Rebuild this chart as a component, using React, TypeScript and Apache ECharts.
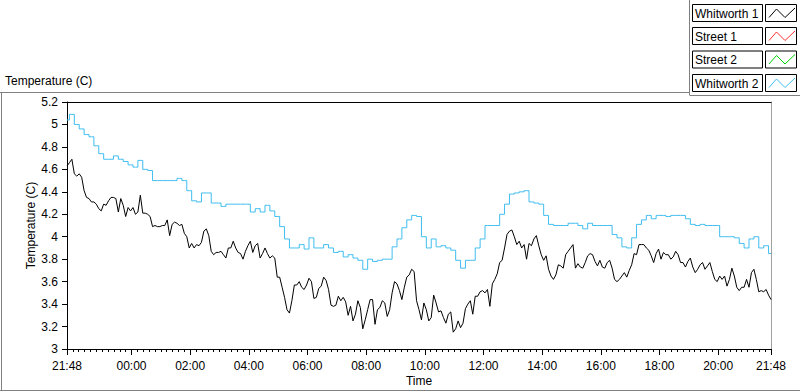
import React, { useEffect, useRef } from "react";
import * as echarts from "echarts";

// x values are minutes relative to 00:00 (21:48 of the previous day = -132)
const START_MIN = -132;
const END_MIN = 1308;
const STEP_W1 = 5; // sampling step of Whitworth 1, minutes
const STEP_W2 = 10; // sampling step of Whitworth 2, minutes

const seriesNames = ["Whitworth 1", "Street 1", "Street 2", "Whitworth 2"];
const seriesColors = ["#000000", "#ff3030", "#00d400", "#3fbdf0"];

const whitworth1 = [
  4.63, 4.66, 4.69, 4.56, 4.54, 4.56, 4.53, 4.41, 4.35, 4.34,
  4.31, 4.31, 4.29, 4.25, 4.23, 4.29, 4.28, 4.32, 4.35, 4.35,
  4.34, 4.22, 4.34, 4.28, 4.18, 4.26, 4.23, 4.26, 4.20, 4.22,
  4.37, 4.21, 4.21, 4.20, 4.18, 4.09, 4.10, 4.09, 4.09, 4.10,
  4.10, 4.15, 4.01, 4.11, 4.13, 4.12, 4.10, 4.11, 4.03, 4.00,
  3.90, 3.94, 3.90, 3.93, 3.92, 3.95, 4.05, 4.07, 4.01, 3.87,
  3.84, 3.86, 3.86, 3.87, 3.84, 3.81, 3.90, 3.90, 3.96, 3.90,
  3.86, 3.85, 3.80, 3.87, 3.92, 3.96, 3.86, 3.92, 3.94, 3.81,
  3.85, 3.90, 3.85, 3.81, 3.83, 3.81, 3.64, 3.64, 3.55, 3.46,
  3.35, 3.32, 3.43, 3.57, 3.57, 3.60, 3.55, 3.53, 3.57, 3.63,
  3.60, 3.45, 3.46, 3.54, 3.56, 3.64, 3.61, 3.53, 3.39, 3.38,
  3.39, 3.47, 3.43, 3.46, 3.42, 3.30, 3.38, 3.25, 3.31, 3.43,
  3.37, 3.18, 3.26, 3.35, 3.44, 3.44, 3.22, 3.35, 3.37, 3.43,
  3.41, 3.29, 3.35, 3.50, 3.60, 3.58, 3.52, 3.44, 3.55, 3.64,
  3.66, 3.71, 3.69, 3.43, 3.35, 3.26, 3.41, 3.35, 3.25, 3.28,
  3.48, 3.41, 3.33, 3.34, 3.28, 3.23, 3.31, 3.33, 3.15, 3.18,
  3.25, 3.19, 3.23, 3.36, 3.40, 3.43, 3.31, 3.47, 3.47, 3.51,
  3.52, 3.50, 3.53, 3.38, 3.58, 3.62, 3.67, 3.77, 3.79, 3.90,
  4.02, 4.05, 4.06, 4.00, 3.93, 3.96, 3.90, 3.93, 3.80, 3.94,
  3.92, 3.98, 4.01, 3.92, 3.84, 3.79, 3.83, 3.71,
  3.65, 3.62, 3.66, 3.75, 3.74, 3.72, 3.84, 3.87, 3.90, 3.93,
  3.72, 3.76, 3.73, 3.72, 3.77, 3.83, 3.85, 3.84, 3.78, 3.74,
  3.79, 3.73, 3.72, 3.77, 3.79, 3.72, 3.62, 3.60, 3.62, 3.65,
  3.68, 3.64, 3.70, 3.75, 3.85, 3.84, 3.93, 3.93, 3.93, 3.90,
  3.88, 3.83, 3.77, 3.85, 3.89, 3.80, 3.86, 3.84, 3.84, 3.80,
  3.82, 3.87, 3.84, 3.77, 3.77, 3.73, 3.78, 3.81, 3.73, 3.68,
  3.71, 3.75, 3.77, 3.71, 3.74, 3.77, 3.69, 3.62, 3.60, 3.65,
  3.62, 3.65, 3.56, 3.62, 3.72, 3.65, 3.55, 3.52, 3.55, 3.55,
  3.62, 3.55, 3.68, 3.71, 3.62, 3.51, 3.52, 3.51, 3.53, 3.48,
  3.44,
];

const whitworth2 = [
  5.04, 5.09, 5.00, 4.96, 4.91, 4.89, 4.81, 4.74, 4.69, 4.69,
  4.72, 4.69, 4.67, 4.64, 4.62, 4.68, 4.60, 4.59, 4.50, 4.50,
  4.50, 4.50, 4.50, 4.52, 4.50, 4.41, 4.32, 4.31, 4.39, 4.39,
  4.30, 4.30, 4.27, 4.29, 4.29, 4.29, 4.29, 4.29, 4.22, 4.25,
  4.22, 4.28, 4.23, 4.18, 4.09, 3.98, 3.90, 3.90, 3.93, 3.89,
  3.99, 3.90, 3.90, 3.93, 3.90, 3.86, 3.87, 3.82, 3.84, 3.81,
  3.79, 3.71, 3.80, 3.78, 3.79, 3.80, 3.80, 3.91, 3.98, 4.08,
  4.15, 4.19, 4.18, 4.00, 3.90, 3.98, 3.91, 3.92, 3.90, 3.88,
  3.79, 3.72, 3.79, 3.79, 3.90, 3.98, 4.10, 4.10, 4.10, 4.20,
  4.29, 4.38, 4.39, 4.40, 4.41, 4.31, 4.30, 4.29, 4.19,
  4.11, 4.10, 4.10, 4.10, 4.12, 4.12, 4.10, 4.07, 4.12, 4.10,
  4.10, 4.10, 4.10, 4.02, 3.99, 3.91, 3.90, 3.99, 4.11, 4.15,
  4.19, 4.16, 4.19, 4.19, 4.18, 4.19, 4.19, 4.19, 4.16, 4.11,
  4.10, 4.11, 4.10, 4.10, 4.10, 4.00, 4.00, 4.00, 3.99, 3.94,
  3.90, 3.98, 4.00, 3.90, 3.92, 3.85,
];

const street1: number[] = [];
const street2: number[] = [];

const xLabelValues = [-132, 0, 120, 240, 360, 480, 600, 720, 840, 960, 1080, 1200, 1308];
const MINOR_TICK_STEP = 12;

const FONT = "'Liberation Sans', Arial, sans-serif";

function fmtTime(m: number): string {
  const mm = ((Math.round(m) % 1440) + 1440) % 1440;
  const h = Math.floor(mm / 60);
  const mi = mm % 60;
  return String(h).padStart(2, "0") + ":" + String(mi).padStart(2, "0");
}

function toPairs(values: number[], step: number): [number, number][] {
  return values.map((v, i) => [START_MIN + i * step, v]);
}

export default function App() {
  const ref = useRef<HTMLDivElement>(null);

  useEffect(() => {
    if (!ref.current) return;
    const chart = echarts.init(ref.current, undefined, { renderer: "svg" });

    const seriesData = [whitworth1, street1, street2, whitworth2];
    const seriesSteps = [STEP_W1, STEP_W2, STEP_W2, STEP_W2];
    const seriesStepMode: (false | string)[] = [false, false, false, "middle"];

    const minorTicks: number[] = [];
    for (let t = START_MIN; t <= END_MIN; t += MINOR_TICK_STEP) minorTicks.push(t);

    const legendGraphics: any[] = [];
    const rowTop = [4, 27, 50.5, 74];
    seriesNames.forEach((name, k) => {
      const top = rowTop[k];
      legendGraphics.push({
        type: "rect",
        shape: { x: 692.5, y: top + 0.5, width: 70, height: 17 },
        style: { fill: "#fff", stroke: "#000", lineWidth: 1 },
      });
      legendGraphics.push({
        type: "text",
        style: {
          x: 695,
          y: top + 9.5,
          text: name,
          fill: "#000",
          font: `12px ${FONT}`,
          verticalAlign: "middle",
          textAlign: "left",
        },
      });
      legendGraphics.push({
        type: "rect",
        shape: { x: 765.5, y: top + 0.5, width: 31, height: 17 },
        style: { fill: "#fff", stroke: "#000", lineWidth: 1 },
      });
      legendGraphics.push({
        type: "polyline",
        shape: {
          points: [
            [769, top + 13.5],
            [776.5, top + 5],
            [785, top + 13.5],
            [795, top + 4],
          ],
        },
        style: { stroke: seriesColors[k], lineWidth: 1, fill: "none" },
      });
    });

    chart.setOption({
      animation: false,
      backgroundColor: "#ffffff",
      textStyle: { fontFamily: FONT },
      grid: { left: 67, top: 102, width: 704, height: 251, containLabel: false },
      xAxis: [
        {
          type: "value",
          min: START_MIN,
          max: END_MIN,
          position: "bottom",
          name: "Time",
          nameLocation: "middle",
          nameGap: 26,
          nameMoveOverlap: false,
          nameTextStyle: { color: "#000", fontSize: 12, fontFamily: FONT },
          axisLine: { show: true, onZero: false, lineStyle: { color: "#000", width: 1 } },
          axisTick: {
            show: true,
            length: 3,
            customValues: minorTicks,
            lineStyle: { color: "#000" },
          },
          axisLabel: {
            show: true,
            customValues: xLabelValues,
            formatter: (v: number) => fmtTime(v),
            color: "#000",
            fontSize: 12,
            fontFamily: FONT,
            margin: 11,
          },
          splitLine: { show: false },
        },
        {
          type: "value",
          min: START_MIN,
          max: END_MIN,
          position: "bottom",
          axisLine: { show: false, onZero: false },
          axisTick: {
            show: true,
            length: 6,
            customValues: xLabelValues,
            lineStyle: { color: "#000" },
          },
          axisLabel: { show: false },
          splitLine: { show: false },
        },
        {
          type: "value",
          min: START_MIN,
          max: END_MIN,
          position: "top",
          axisLine: { show: true, onZero: false, lineStyle: { color: "#000", width: 1 } },
          axisTick: { show: false },
          axisLabel: { show: false },
          splitLine: { show: false },
        },
      ],
      yAxis: [
        {
          type: "value",
          min: 3,
          max: 5.2,
          interval: 0.2,
          position: "left",
          name: "Temperature (C)",
          nameLocation: "middle",
          nameGap: 30,
          nameMoveOverlap: false,
          nameTextStyle: { color: "#000", fontSize: 12, fontFamily: FONT },
          axisLine: { show: true, onZero: false, lineStyle: { color: "#000", width: 1 } },
          axisTick: { show: true, length: 5, lineStyle: { color: "#000" } },
          axisLabel: {
            color: "#000",
            fontSize: 12,
            fontFamily: FONT,
            margin: 9,
            formatter: (v: number) => String(Math.round(v * 10) / 10),
          },
          splitLine: { show: false },
        },
        {
          type: "value",
          min: 3,
          max: 5.2,
          position: "right",
          axisLine: { show: true, onZero: false, lineStyle: { color: "#a0a0a0", width: 1 } },
          axisTick: { show: false },
          axisLabel: { show: false },
          splitLine: { show: false },
        },
      ],
      series: seriesNames.map((name, k) => ({
        name,
        type: "line",
        xAxisIndex: 0,
        yAxisIndex: 0,
        data: toPairs(seriesData[k], seriesSteps[k]),
        step: seriesStepMode[k],
        showSymbol: false,
        symbol: "none",
        lineStyle: { color: seriesColors[k], width: 1 },
        itemStyle: { color: seriesColors[k] },
      })),
      graphic: [
        {
          type: "line",
          shape: { x1: 0, y1: 92.5, x2: 689, y2: 92.5 },
          style: { stroke: "#808080", lineWidth: 1 },
        },
        {
          type: "line",
          shape: { x1: 1.5, y1: 92, x2: 1.5, y2: 391 },
          style: { stroke: "#808080", lineWidth: 1 },
        },
        {
          type: "line",
          shape: { x1: 0, y1: 390.5, x2: 800, y2: 390.5 },
          style: { stroke: "#808080", lineWidth: 1 },
        },
        {
          type: "line",
          shape: { x1: 689.5, y1: 0, x2: 689.5, y2: 95 },
          style: { stroke: "#808080", lineWidth: 1 },
        },
        {
          type: "line",
          shape: { x1: 689.5, y1: 95.5, x2: 800, y2: 95.5 },
          style: { stroke: "#808080", lineWidth: 1 },
        },
        {
          type: "text",
          style: {
            x: 5,
            y: 81,
            text: "Temperature (C)",
            fill: "#000",
            font: `12px ${FONT}`,
            verticalAlign: "middle",
            textAlign: "left",
          },
        },
        ...legendGraphics,
      ],
    });

    return () => {
      chart.dispose();
    };
  }, []);

  return (
    <div
      ref={ref}
      style={{ position: "fixed", left: 0, top: 0, width: 800, height: 392, background: "#fff" }}
    />
  );
}
